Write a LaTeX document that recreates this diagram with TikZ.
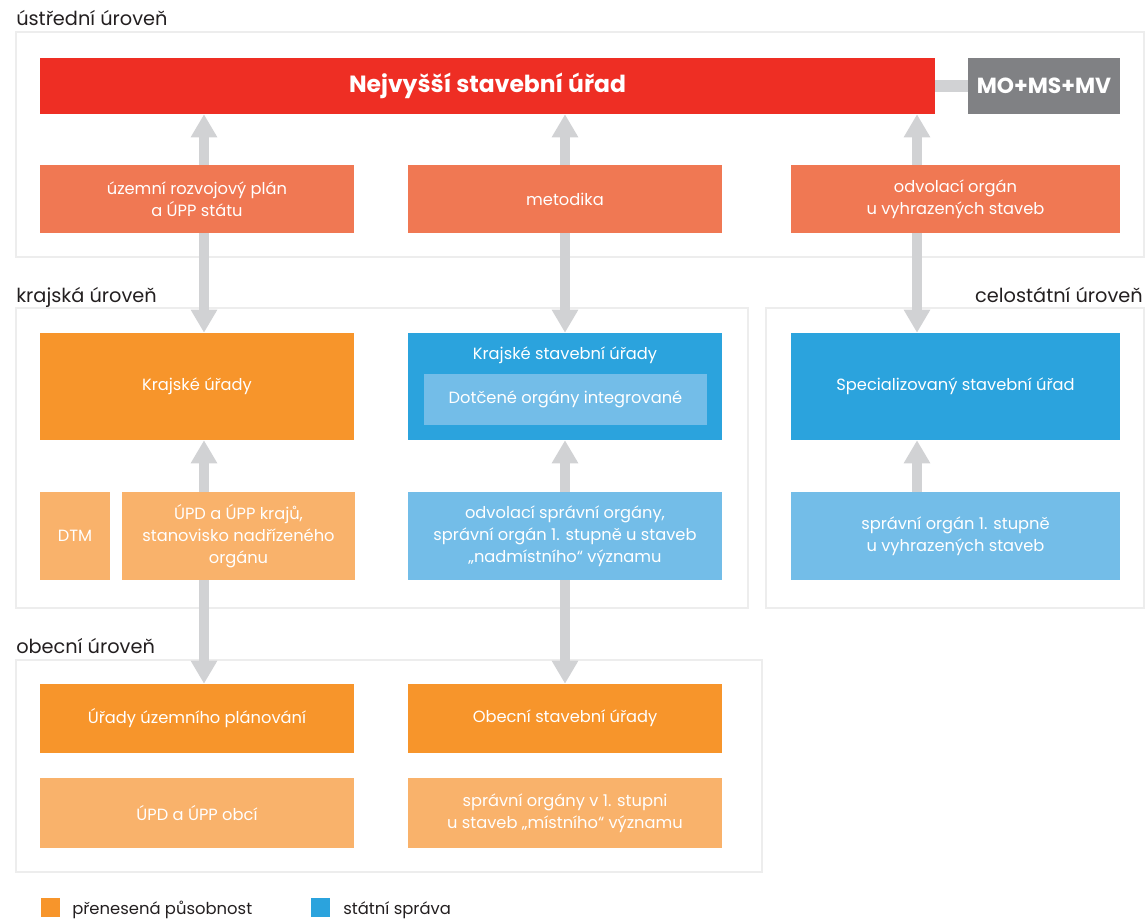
\documentclass[tikz,border=0pt]{standalone}
\usepackage{fontspec}
\setmainfont{Poppins}
\usetikzlibrary{arrows.meta}
\definecolor{cRed}{HTML}{EE2E24}
\definecolor{cGrey}{HTML}{808184}
\definecolor{cSalmon}{HTML}{F07853}
\definecolor{cOrange}{HTML}{F7952B}
\definecolor{cLOrange}{HTML}{F9B26B}
\definecolor{cBlue}{HTML}{2BA3DD}
\definecolor{cLBlue}{HTML}{73BDE8}
\definecolor{cArrow}{HTML}{D1D2D4}
\definecolor{cFrame}{HTML}{EDEDED}
\definecolor{cText}{HTML}{231F20}
\pgfdeclarelayer{framelayer}
\pgfdeclarelayer{arrowlayer}
\pgfsetlayers{framelayer,arrowlayer,main}
\begin{document}
\begin{tikzpicture}[x=0.75pt,y=-0.75pt,
  sz/.style 2 args={minimum width=#1*0.75pt, minimum height=#2*0.75pt},
  box/.style={draw=none, inner sep=0pt, align=center, text=white,
    font=\fontsize{12.2}{16.5}\selectfont},
  frame/.style={draw=cFrame, line width=2pt},
  level/.style={inner sep=0pt, text=cText, font=\fontsize{14.5}{17}\selectfont},
  legtext/.style={inner sep=0pt, text=cText, font=\fontsize{12.3}{14}\selectfont},
  bigarrow/.style={draw=cArrow, line width=7.5pt,
    {Triangle[width=18.75pt,length=17.25pt]}-{Triangle[width=18.75pt,length=17.25pt]}},
  uparrow/.style={draw=cArrow, line width=7.5pt,
    -{Triangle[width=18.75pt,length=17.25pt]}},
  link/.style={draw=cArrow, line width=9pt}
]
\useasboundingbox (0,0) rectangle (1146,920);

% frames
\begin{pgfonlayer}{framelayer}
\draw[frame] (16,32) rectangle (1144,257);
\draw[frame] (16,308) rectangle (748,608);
\draw[frame] (766,308) rectangle (1144,608);
\draw[frame] (16,660) rectangle (762,872);
\end{pgfonlayer}

% level labels
\node[level, anchor=base west] (lvl1) at (16,26) {ústřední úroveň};
\node[level, anchor=base west] (lvl2) at (16,302) {krajská úroveň};
\node[level, anchor=base east] (lvl3) at (1143,302) {celostátní úroveň};
\node[level, anchor=base west] (lvl4) at (16,653) {obecní úroveň};

% central level
\node[box, sz={895}{56}, fill=cRed, font=\fontsize{17.6}{22}\selectfont\bfseries] (nsu) at (487.5,86) {Nejvyšší stavební úřad};
\node[box, sz={152}{56}, fill=cGrey, font=\fontsize{16.4}{18}\selectfont\bfseries] (mo) at (1044,86) {MO+MS+MV};
\node[box, sz={314}{68}, fill=cSalmon] (urp) at (197,199) {územní rozvojový plán\\a ÚPP státu};
\node[box, sz={314}{68}, fill=cSalmon] (met) at (565,199) {metodika};
\node[box, sz={329}{68}, fill=cSalmon] (odv) at (955.5,199) {odvolací orgán\\u vyhrazených staveb};

% regional level
\node[box, sz={314}{107}, fill=cOrange] (ku) at (197,386.5) {Krajské úřady};
\node[box, sz={314}{107}, fill=cBlue] (ksu) at (565,386.5) {};
\node[box] (ksut) at (565,355) {Krajské stavební úřady};
\node[box, sz={283}{51}, fill=cLBlue] (doi) at (565.5,399.5) {Dotčené orgány integrované};
\node[box, sz={70}{88}, fill=cLOrange] (dtm) at (75,536) {DTM};
\node[box, sz={233}{88}, fill=cLOrange] (updk) at (238.5,536) {ÚPD a ÚPP krajů,\\stanovisko nadřízeného\\orgánu};
\node[box, sz={314}{88}, fill=cLBlue] (osp) at (565,536) {odvolací správní orgány,\\správní orgán 1. stupně u staveb\\„nadmístního“ významu};

% national level
\node[box, sz={329}{107}, fill=cBlue] (ssu) at (955.5,386.5) {Specializovaný stavební úřad};
\node[box, sz={329}{88}, fill=cLBlue] (so1) at (955.5,536) {správní orgán 1. stupně\\u vyhrazených staveb};

% municipal level
\node[box, sz={314}{69}, fill=cOrange] (uup) at (197,718.5) {Úřady územního plánování};
\node[box, sz={314}{69}, fill=cOrange] (osu) at (565,718.5) {Obecní stavební úřady};
\node[box, sz={314}{70}, fill=cLOrange] (updo) at (197,813) {ÚPD a ÚPP obcí};
\node[box, sz={314}{70}, fill=cLOrange] (spo) at (565,813) {správní orgány v 1. stupni\\u staveb „místního“ významu};

% legend
\node[sz={19}{19}, fill=cOrange, inner sep=0pt] (lgo) at (50.5,907.5) {};
\node[legtext, anchor=base west] (lgot) at (72,914) {přenesená působnost};
\node[sz={19}{19}, fill=cBlue, inner sep=0pt] (lgb) at (320.5,907.5) {};
\node[legtext, anchor=base west] (lgbt) at (343,914) {státní správa};

% arrows
\coordinate (xa) at (204,0);
\coordinate (xb) at (565,0);
\coordinate (xc) at (917,0);
\begin{pgfonlayer}{arrowlayer}
\draw[link] (nsu.east) -- (mo.west);
\draw[bigarrow] (nsu.south -| xa) -- (ku.north -| xa);
\draw[bigarrow] (nsu.south -| xb) -- (ksu.north -| xb);
\draw[bigarrow] (nsu.south -| xc) -- (ssu.north -| xc);
\draw[bigarrow] (ku.south -| xa) -- (uup.north -| xa);
\draw[bigarrow] (ksu.south -| xb) -- (osu.north -| xb);
\draw[uparrow] (so1.north -| xc) -- (ssu.south -| xc);
\end{pgfonlayer}
\end{tikzpicture}
\end{document}
